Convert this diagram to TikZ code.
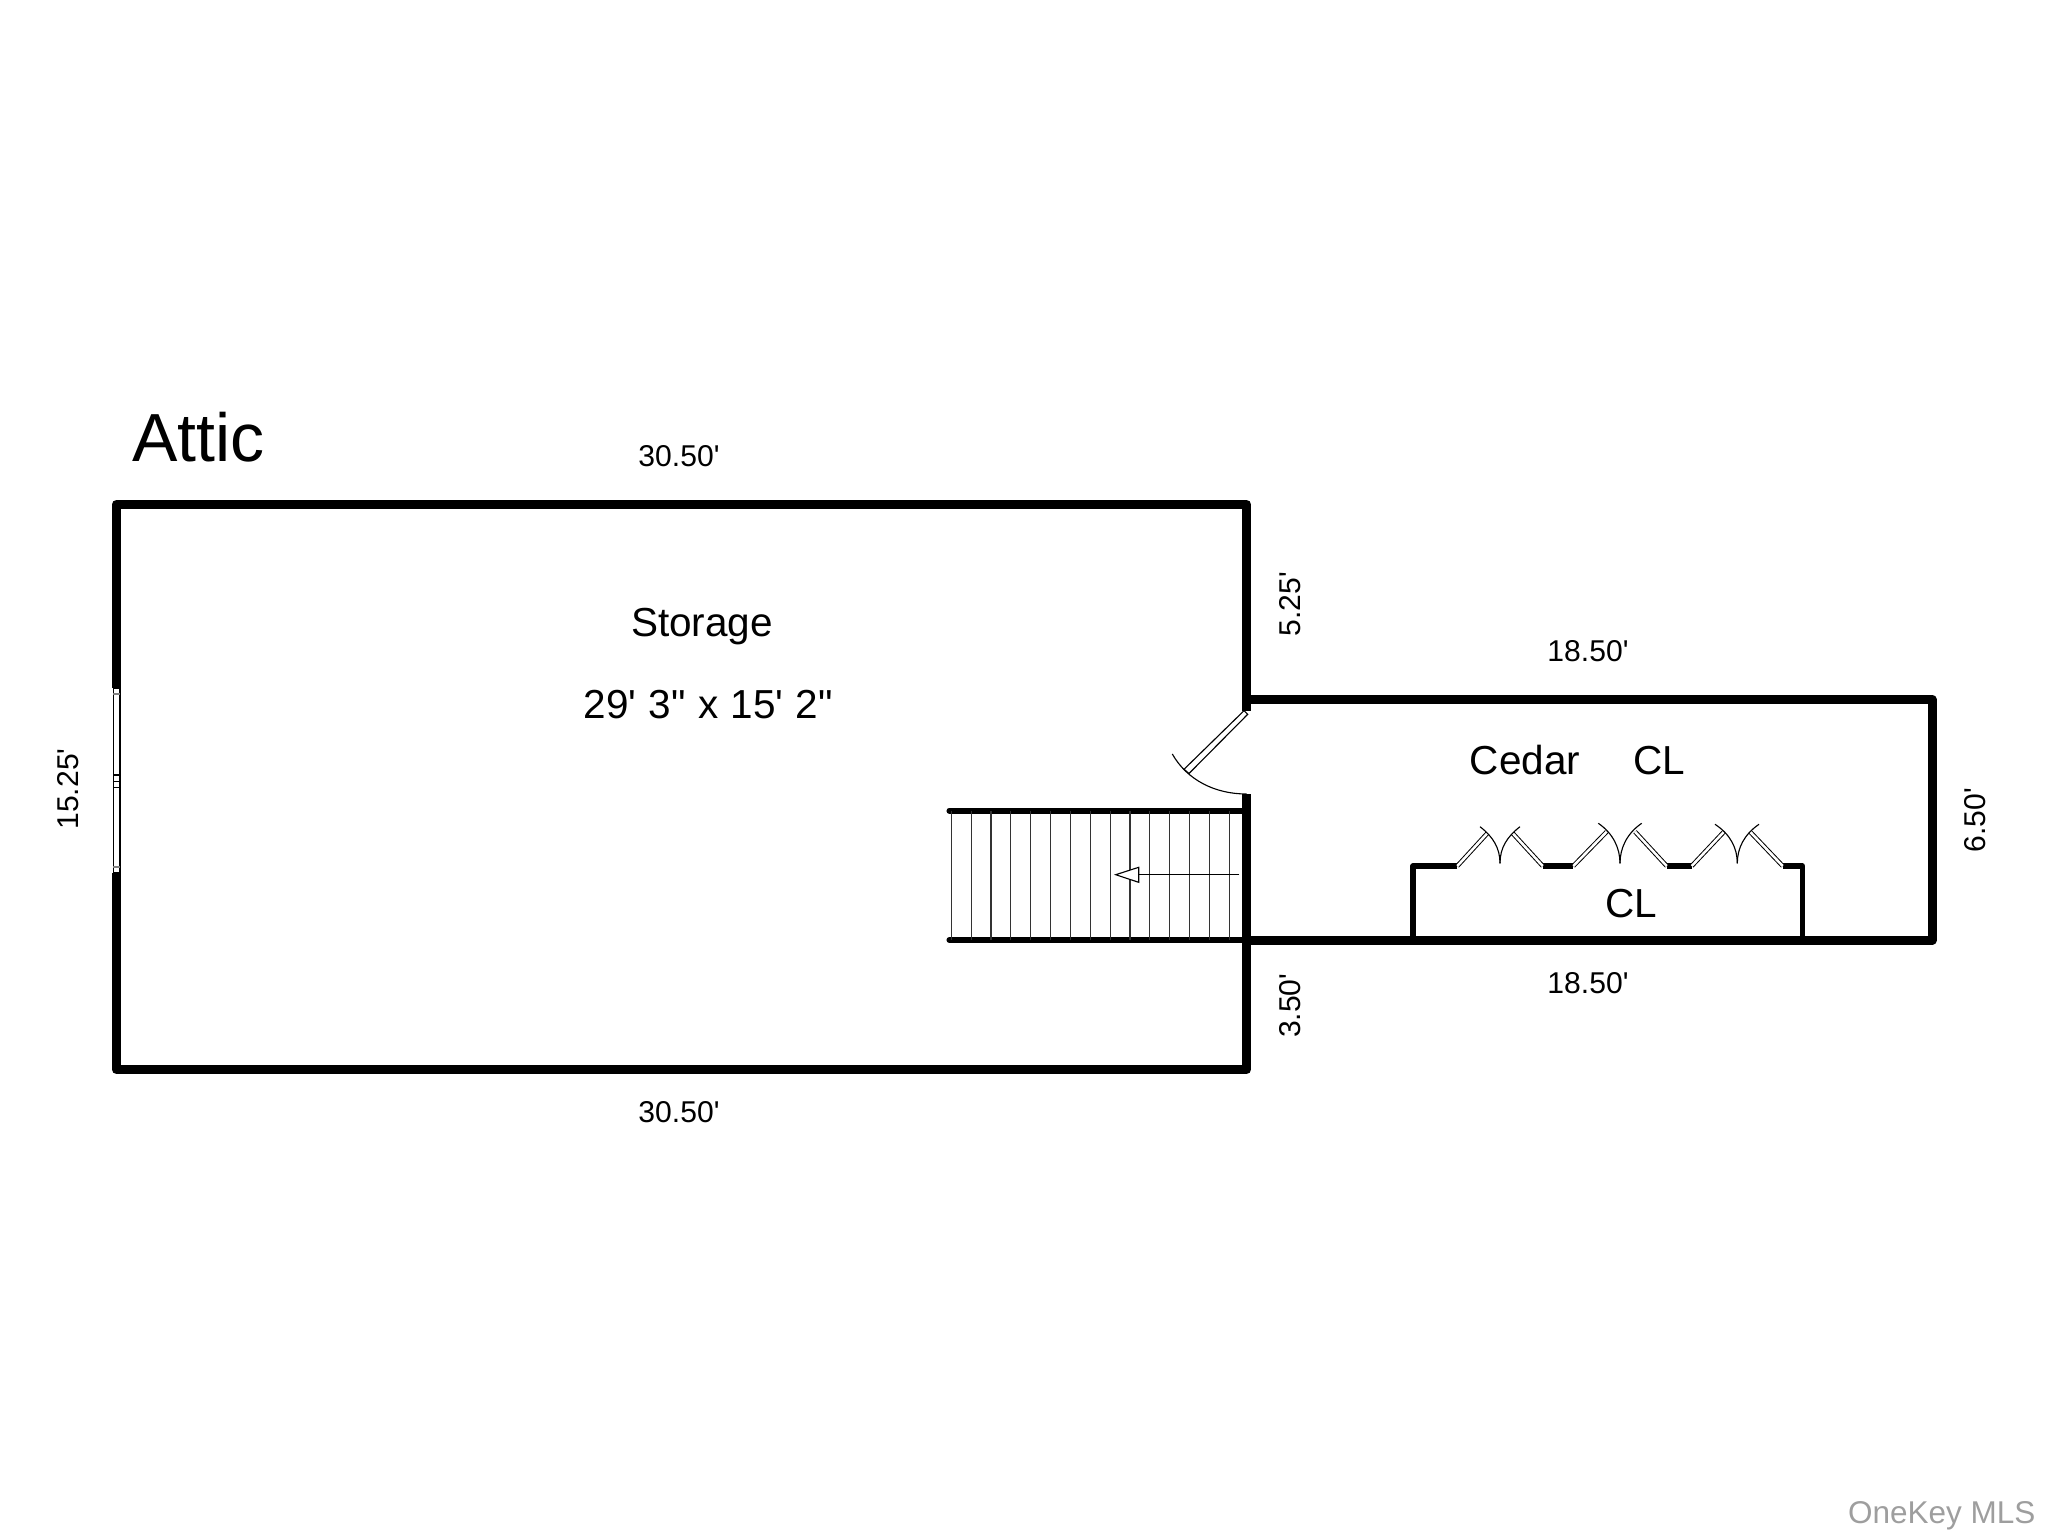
\documentclass[tikz,border=0pt]{standalone}
\usepackage{fontspec}
\setmainfont{Liberation Sans}[Ligatures=TeXOff]
\tikzset{
	wall/.style = {line width = 3.2pt, line join = round},
	thinwall/.style = {line width = 2pt, line join = round},
	thinline/.style = {line width = 0.4pt},
	leaf/.style = {line width = 0.35pt, double = white, double distance = 0.9pt},
	title/.style = {anchor = base west, inner sep = 0pt, font = \fontsize{24.2}{28}\selectfont},
	roomlab/.style = {anchor = base, inner sep = 0pt, font = \fontsize{14.4}{17}\selectfont},
	dimlab/.style = {anchor = base, inner sep = 0pt, font = \fontsize{10.7}{12}\selectfont}
}
\begin{document}
\begin{tikzpicture}[x = 0.0125cm, y = -0.0125cm]
	\useasboundingbox (0,0) rectangle (2048,1536);
	
	\coordinate[](tl) at (116.3,504.5) ;
	\coordinate[](tr) at (1246.5,504.5) ;
	\coordinate[](bl) at (116.3,1069.5) ;
	\coordinate[](br) at (1246.5,1069.5) ;
	\coordinate[](winTop) at (116.3,688) ;
	\coordinate[](winBot) at (116.3,873) ;
	\coordinate[](doorTop) at (1246.5,711) ;
	\coordinate[](doorBot) at (1246.5,794) ;
	\coordinate[](closetTl) at (1246.5,699.3) ;
	\coordinate[](closetTr) at (1932,699.3) ;
	\coordinate[](closetBr) at (1932,940.2) ;
	\coordinate[](closetBl) at (1246.5,940.2) ;
	
	% outer walls
	\draw[wall] (doorTop) -- (tr) -- (tl) -- (winTop);
	\draw[wall] (winBot) -- (bl) -- (br) -- (doorBot);
	\draw[wall] (closetTl) -- (closetTr) -- (closetBr) -- (closetBl);
	
	% window
	\draw[thinline] (113.3,688) rectangle (120,873);
	\draw[thinline] (113.3,775) -- (120,775);
	\draw[thinline] (113.3,781.5) -- (120,781.5);
	\draw[thinline] (113.3,787.5) -- (120,787.5);
	\draw[thinline, gray] (113.3,694) -- (120,694);
	\draw[thinline, gray] (113.3,867) -- (120,867);
	
	% door
	\draw[thinline] (1244,710.7) -- (1247.7,714.3) -- (1189,773.5) -- (1184,769.3) -- cycle;
	\draw[thinline] (doorBot) .. controls (1215,794) and (1187,780) .. (1172.3,754);
	
	% stairs
	\draw[thinwall, line cap = round] (949.3,810.7) -- (1246.5,810.7);
	\draw[thinwall, line cap = round] (949.3,940) -- (1246.5,940);
	\foreach \i in {0,...,14}
		\draw[thinline, black!80] ({951.3+19.85*\i},810.7) -- ({951.3+19.85*\i},940);
	\draw[thinline] (1239.3,874.7) -- (1137,874.7);
	\draw[thinline, fill = white] (1115.7,874.7) -- (1138.7,867.3) -- (1138.7,882.3) -- cycle;
	
	% closet
	\draw[thinwall] (1457.3,866) -- (1413.3,866) -- (1413.3,940);
	\draw[thinwall] (1782.7,866) -- (1802.3,866) -- (1802.3,940);
	\draw[thinwall] (1542.7,866) -- (1573.3,866);
	\draw[thinwall] (1666.7,866) -- (1691.7,866);
	\foreach \hl/\lx/\ax/\mx/\bx/\rx/\hr/\ly/\ay in {
		1457.3/1487.3/1480/1500/1520/1512.7/1542.7/833.3/826.7,
		1573.3/1606.7/1598.3/1620/1641.7/1635/1666.7/831.7/823.3,
		1691.7/1724/1715/1737.3/1759/1750/1782.7/831.7/824.3} {
		\draw[leaf] (\hl,866) -- (\lx,\ly);
		\draw[leaf] (\hr,866) -- (\rx,\ly);
		\draw[thinline] (\mx,863.3) .. controls (\mx,848) and ({\mx-7},{\ay+10}) .. (\ax,\ay);
		\draw[thinline] (\mx,863.3) .. controls (\mx,848) and ({\mx+7},{\ay+10}) .. (\bx,\ay);
	}
	
	% labels
	\node[title](attic) at (132,461.7) {Attic};
	\node[roomlab](storage) at (702,636) {Storage};
	\node[roomlab](size) at (708.3,718.3) {\spaceskip=4.4pt\relax 29' 3" x 15' 2"};
	\node[roomlab](cedar) at (1525,774) {Cedar};
	\node[roomlab](cl1) at (1659,774) {CL};
	\node[roomlab](cl2) at (1631,917.3) {CL};
	
	\node[dimlab](topLen) at (679,466) {30.50'};
	\node[dimlab](botLen) at (679,1122) {30.50'};
	\node[dimlab](closetTop) at (1588,661.6) {18.50'};
	\node[dimlab](closetBot) at (1588,993.3) {18.50'};
	\node[dimlab, rotate = 90](upper) at (1300.7,604) {5.25'};
	\node[dimlab, rotate = 90](lower) at (1300.7,1005.7) {3.50'};
	\node[dimlab, rotate = 90](closetH) at (1985.7,820) {6.50'};
	\node[dimlab, rotate = 90](leftH) at (78.5,789) {15.25'};
	
	\node[anchor = base east, inner sep = 0pt, text = black!38, font = \fontsize{11.2}{13}\selectfont](mls) at (2036,1523) {OneKey MLS};
\end{tikzpicture}
\end{document}
